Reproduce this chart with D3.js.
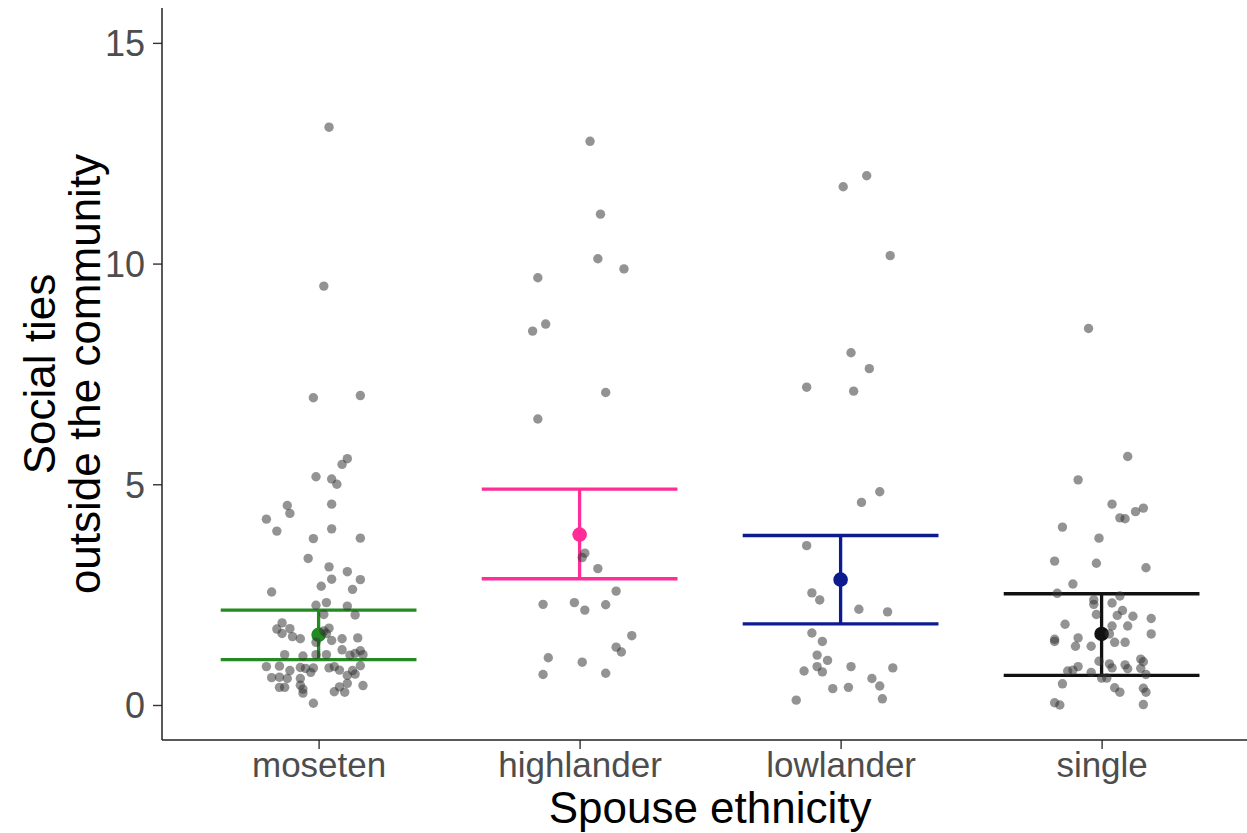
<!DOCTYPE html>
<html>
<head>
<meta charset="utf-8">
<script src="https://cdn.jsdelivr.net/npm/d3@7"></script>
<style>
  html, body { margin: 0; padding: 0; background: #fff; }
  svg { display: block; }
</style>
</head>
<body>
<svg id="chart" width="1247" height="833"></svg>
<script>
// ---------- data ----------
const categories = ["moseten", "highlander", "lowlander", "single"];
const barColors = ["#228B22", "#FF2D95", "#0D1B8E", "#111111"];
const means = [1.59, 3.86, 2.84, 1.61];
const lowers = [1.03, 2.86, 1.84, 0.67];
const uppers = [2.15, 4.89, 3.84, 2.52];
const yTicks = [0, 5, 10, 15];

// raw observations: [jitter offset (fraction of category spacing), value]
const mosetenPts = [
  [0.04,13.09],[0.02,9.49],[-0.02,6.96],[0.16,7.01],[0.11,5.58],[0.09,5.45],[-0.01,5.17],
  [0.05,5.12],[0.07,5.00],[-0.12,4.52],[-0.11,4.34],[-0.20,4.21],[0.05,4.55],[-0.16,3.94],
  [0.05,3.99],[-0.02,3.77],[0.16,3.78],[-0.04,3.32],[0.04,3.13],[0.11,3.02],[0.05,2.85],
  [0.16,2.84],[0.01,2.69],[0.13,2.62],[-0.18,2.56],[-0.01,2.26],[0.03,2.32],[0.11,2.24],
  [0.14,2.04],[0.02,2.05],[-0.14,1.86],[-0.16,1.72],[-0.11,1.73],[-0.14,1.62],[-0.10,1.55],
  [-0.07,1.50],[0.04,1.74],[0.02,1.68],[0.03,1.62],[-0.01,1.42],[0.05,1.46],[0.09,1.50],
  [0.15,1.52],[0.09,1.25],[0.16,1.23],[0.12,1.13],[0.14,1.17],[0.17,1.14],[-0.13,1.14],
  [-0.06,1.11],[-0.01,1.14],[0.03,1.14],[-0.20,0.87],[-0.15,0.88],[-0.11,0.78],[-0.07,0.85],
  [-0.05,0.83],[-0.02,0.84],[-0.03,0.74],[0.04,0.84],[0.06,0.87],[0.08,0.79],[0.13,0.78],
  [0.16,0.89],[0.11,0.67],[0.14,0.70],[-0.18,0.62],[-0.15,0.63],[-0.12,0.60],[-0.07,0.60],
  [-0.07,0.45],[-0.15,0.40],[-0.13,0.40],[-0.06,0.36],[-0.06,0.27],[0.08,0.41],[0.11,0.49],
  [0.06,0.30],[0.10,0.29],[0.17,0.44],[-0.02,0.04]
];
const highlanderPts = [
  [0.04,12.77],[0.08,11.12],[0.07,10.11],[0.17,9.88],[-0.16,9.68],[-0.13,8.63],[-0.18,8.47],
  [0.10,7.08],[-0.16,6.48],[0.02,3.44],[0.01,3.34],[0.07,3.09],[0.14,2.58],[-0.14,2.28],
  [-0.02,2.32],[0.02,2.15],[0.10,2.27],[0.20,1.57],[0.14,1.31],[0.16,1.20],[-0.12,1.07],
  [0.01,0.97],[-0.14,0.69],[0.10,0.72]
];
const lowlanderPts = [
  [0.10,11.99],[0.01,11.74],[0.19,10.18],[0.04,7.98],[0.11,7.62],[-0.13,7.20],[0.05,7.11],
  [0.15,4.83],[0.08,4.59],[-0.13,3.61],[-0.11,2.54],[-0.08,2.38],[0.07,2.17],[0.18,2.11],
  [-0.11,1.63],[-0.07,1.44],[-0.09,1.13],[-0.05,1.01],[-0.09,0.87],[-0.07,0.75],[-0.14,0.77],
  [0.04,0.87],[0.20,0.84],[0.12,0.60],[0.15,0.43],[-0.03,0.37],[0.03,0.40],[0.16,0.14],
  [-0.17,0.11]
];
const singlePts = [
  [-0.05,8.53],[0.10,5.63],[-0.09,5.10],[0.04,4.55],[0.16,4.46],[0.13,4.38],[0.07,4.24],
  [0.09,4.22],[-0.15,4.03],[-0.01,3.78],[-0.18,3.26],[-0.02,3.21],[0.17,3.11],[-0.11,2.74],
  [-0.17,2.53],[0.07,2.47],[-0.03,2.38],[-0.03,2.28],[0.04,2.31],[0.08,2.14],[0.06,2.03],
  [-0.02,2.05],[0.12,2.01],[0.19,1.96],[0.04,1.79],[0.10,1.79],[-0.14,1.83],[0.03,1.61],
  [0.19,1.61],[-0.18,1.49],[-0.18,1.44],[-0.09,1.52],[-0.10,1.33],[-0.04,1.33],[0.05,1.42],
  [0.09,1.42],[0.15,1.04],[0.16,0.98],[-0.01,0.99],[0.03,0.93],[0.04,0.84],[0.09,0.91],
  [0.10,0.82],[0.15,0.83],[-0.09,0.87],[-0.11,0.79],[-0.13,0.77],[-0.04,0.74],[0.17,0.69],
  [0.00,0.61],[0.02,0.61],[-0.15,0.48],[0.05,0.39],[0.07,0.29],[0.16,0.38],[0.17,0.29],
  [-0.18,0.05],[-0.16,0.00],[0.16,0.01]
];
const pointSets = [mosetenPts, highlanderPts, lowlanderPts, singlePts];

// ---------- layout ----------
const W = 1247, H = 833;
const mLeft = 162, mTop = 8, mBottom = 740;
const svg = d3.select("#chart");

const x = d3.scaleLinear().domain([-0.6, 3.6]).range([mLeft, mLeft + 4.2 * 261]);
const y = d3.scaleLinear().domain([-0.793, 15.79]).range([mBottom, mTop]);

const font = "'Liberation Sans', Arial, sans-serif";

// axes
const yAxis = d3.axisLeft(y).tickValues(yTicks).tickSize(9).tickPadding(8);
const gy = svg.append("g").attr("transform", `translate(${mLeft},0)`).call(yAxis);
const xAxis = d3.axisBottom(x).tickValues(d3.range(categories.length))
  .tickFormat(i => categories[i]).tickSize(9).tickPadding(3);
const gx = svg.append("g").attr("transform", `translate(0,${mBottom})`).call(xAxis);

[gx, gy].forEach(g => {
  g.select(".domain").remove();
  g.selectAll(".tick line").attr("stroke", "#333").attr("stroke-width", 1.4);
  g.selectAll(".tick text").attr("fill", "#4d4d4d").style("font-family", font).style("font-size", "35px");
});
gy.selectAll(".tick text").attr("dy", "0.36em").style("font-size", "36px");

// axis lines
svg.append("line").attr("x1", mLeft).attr("x2", mLeft).attr("y1", mTop).attr("y2", mBottom)
  .attr("stroke", "#222").attr("stroke-width", 1.5);
svg.append("line").attr("x1", mLeft).attr("x2", W).attr("y1", mBottom).attr("y2", mBottom)
  .attr("stroke", "#222").attr("stroke-width", 1.5);

// error bars and means
const bars = svg.append("g");
categories.forEach((c, i) => {
  const col = barColors[i];
  const g = bars.append("g");
  g.append("line").attr("x1", x(i - 0.375)).attr("x2", x(i + 0.375))
    .attr("y1", y(uppers[i])).attr("y2", y(uppers[i])).attr("stroke", col).attr("stroke-width", 3.3);
  g.append("line").attr("x1", x(i - 0.375)).attr("x2", x(i + 0.375))
    .attr("y1", y(lowers[i])).attr("y2", y(lowers[i])).attr("stroke", col).attr("stroke-width", 3.3);
  g.append("line").attr("x1", x(i)).attr("x2", x(i))
    .attr("y1", y(uppers[i])).attr("y2", y(lowers[i])).attr("stroke", col).attr("stroke-width", 3.3);
  g.append("circle").attr("cx", x(i)).attr("cy", y(means[i])).attr("r", 7.3).attr("fill", col);
});

// raw points
const pts = svg.append("g");
pointSets.forEach((set, i) => {
  pts.selectAll(null).data(set).enter().append("circle")
    .attr("cx", d => x(i + d[0]))
    .attr("cy", d => y(d[1]))
    .attr("r", 4.7)
    .attr("fill", "#333")
    .attr("fill-opacity", 0.53);
});

// axis titles
svg.append("text").attr("x", x(1.5)).attr("y", 823)
  .attr("text-anchor", "middle").style("font-family", font).style("font-size", "44px")
  .attr("fill", "#000").text("Spouse ethnicity");

const yt = svg.append("text")
  .attr("transform", `translate(55,${(mTop + mBottom) / 2}) rotate(-90)`)
  .attr("text-anchor", "middle").style("font-family", font).style("font-size", "44px")
  .attr("fill", "#000");
yt.append("tspan").attr("x", 0).attr("dy", 0).text("Social ties");
yt.append("tspan").attr("x", 0).attr("dy", 45).text("outside the community");
</script>
</body>
</html>
